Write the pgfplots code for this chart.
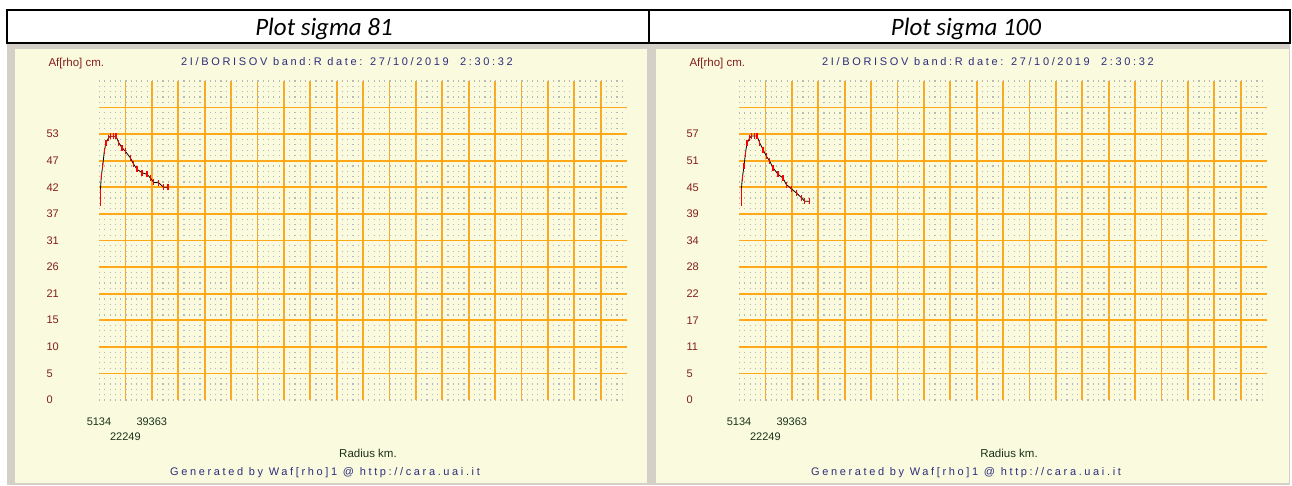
\documentclass[border=0pt]{standalone}
\usepackage{fontspec}
\setmainfont{Liberation Sans}
\newfontfamily\headfont{Carlito}
\newfontfamily\spacedfont[LetterSpace=24]{Liberation Sans}
\usepackage{pgfplots}
\pgfplotsset{compat=1.18}
\usepackage{pgfplotstable}

\definecolor{chartbg}{RGB}{250,250,222}
\definecolor{framegray}{RGB}{212,208,200}
\definecolor{gridorange}{RGB}{255,168,25}
\definecolor{dotgray}{RGB}{185,185,180}
\definecolor{ylab}{RGB}{130,30,30}
\definecolor{xlab}{RGB}{25,50,25}
\definecolor{titleblue}{RGB}{45,45,125}

% sigma 81: radius (km), Af[rho] (cm), error plus, error minus
\pgfplotstableread{
x     y    ep   em
5977  41.6 0.5  3.0
6625  44.6 0.6  0.6
7533  46.6 0.6  0.6
8570  49.6 0.6  0.6
9672  51.3 0.6  0.6
11423 52.3 0.6  0.6
12460 52.6 0.6  0.6
14664 52.6 0.6  0.6
16155 52.6 0.6  0.6
17905 51.3 0.6  0.6
20045 50.3 0.6  0.6
22184 49.6 0.6  0.6
25426 48.3 0.6  0.6
27630 47.0 0.6  0.6
29769 46.0 0.6  0.6
33011 45.3 0.6  0.6
36252 45.0 0.6  0.6
38392 44.3 0.6  0.6
40596 43.4 0.6  0.6
43837 43.3 0.6  0.6
47079 42.4 0.6  0.6
49866 42.4 0.6  0.6
}\sigmaA

% sigma 100
\pgfplotstableread{
x     y    ep   em
6625  45.0 0.5  3.4
7273  47.6 0.65 0.65
8376  50.1 0.65 0.65
9218  52.7 0.65 0.65
10320 55.1 0.65 0.65
12071 56.2 0.65 0.65
13108 56.6 0.65 0.65
15312 56.6 0.65 0.65
16803 56.6 0.65 0.65
18554 55.1 0.65 0.65
20693 53.7 0.65 0.65
22833 52.3 0.65 0.65
25037 51.2 0.65 0.65
27176 49.8 0.65 0.65
30418 48.4 0.65 0.65
33659 47.6 0.65 0.65
35799 46.2 0.65 0.65
39040 45.3 0.65 0.65
42282 44.4 0.65 0.65
45523 43.4 0.65 0.65
47727 42.6 0.65 0.65
50969 42.6 0.65 0.65
}\sigmaB

\pgfplotsset{
  cara/.style={
    scale only axis, width=528pt, height=319pt,
    anchor=south west,
    xmin=5134, xmax=347424, ymin=0,
    scaled x ticks=false, scaled y ticks=false,
    axis line style={draw=none},
    major tick length=0pt, minor tick length=0pt,
    xtick={22248.5,39363,56477.5,73592,90706.5,107821,124935.5,142050,159164.5,176279,
           193393.5,210508,227622.5,244737,261851.5,278966,296080.5,313195,330309.5},
    xticklabels={{\raisebox{-15pt}[8pt][0pt]{22249}},39363,{},{},{},{},{},{},{},{},{},{},{},{},{},{},{},{},{}},
    extra x ticks={5134}, extra x tick labels={5134},
    extra x tick style={grid=none},
    extra y ticks={0}, extra y tick labels={0},
    extra y tick style={grid=none},
    xmajorgrids=true, ymajorgrids=true, yminorgrids=true,
    major grid style={gridorange, line width=1.8pt},
    minor grid style={dotgray, line width=1.2pt, dash pattern=on 1.2pt off 4.08pt},
    tick label style={font=\fontsize{11}{13}\selectfont},
    xticklabel style={text=xlab, yshift=-14pt},
    yticklabel style={text=ylab, anchor=west, xshift=-56pt},
    error bars/y dir=both, error bars/y explicit,
    error bars/error bar style={red, line width=1.1pt},
    error bars/error mark=none,
  }
}

\begin{document}
\begin{tikzpicture}
\useasboundingbox (0,0) rectangle (1292pt,485pt);
\fill[white] (0,0) rectangle (1292pt,485pt);
% table body and chart panels
\fill[framegray] (7pt,0pt) rectangle (1290pt,442pt);
\fill[chartbg] (15pt,2pt) rectangle (647pt,436pt);
\fill[chartbg] (656pt,2pt) rectangle (1289pt,436pt);
% header row
\draw[black, line width=2pt] (7pt,442pt) rectangle (1290pt,475pt);
\draw[black, line width=2pt] (649pt,442pt) -- (649pt,475pt);
\node[anchor=base] at (324pt,449pt) {\headfont\itshape\fontsize{25}{30}\selectfont Plot sigma 81};
\node[anchor=base] at (966pt,449pt) {\headfont\itshape\fontsize{25}{30}\selectfont Plot sigma 100};

% left chart
\begin{axis}[cara, at={(99pt,85pt)}, ymax=63.6,
  ytick={5.3,10.6,15.9,21.2,26.5,31.8,37.1,42.4,47.7,53,58.3},
  yticklabels={5,10,15,21,26,31,37,42,47,53,{}},
  minor ytick={0,1.06,...,63.7}]
\addplot[black, line width=0.8pt] table[x=x, y=y, y error plus=ep, y error minus=em] {\sigmaA};
\end{axis}
\node[anchor=west, text=ylab, font=\fontsize{11.5}{13}\selectfont] at (45pt,421pt) {Af[rho] cm.};
\node[text=titleblue, font=\fontsize{11}{13}\selectfont] at (347pt,423pt) {\spacedfont 2I/BORISOV band:R date: 27/10/2019\ \ 2:30:32};
\node[text=xlab, font=\fontsize{11.5}{13}\selectfont] at (368pt,32pt) {Radius km.};
\node[text=titleblue, font=\fontsize{11}{13}\selectfont] at (325pt,12pt) {\spacedfont Generated by Waf[rho]1 @ http://cara.uai.it};

% right chart
\begin{axis}[cara, at={(739pt,85pt)}, ymax=68.4,
  ytick={5.7,11.4,17.1,22.8,28.5,34.2,39.9,45.6,51.3,57,62.7},
  yticklabels={5,11,17,22,28,34,39,45,51,57,{}},
  minor ytick={0,1.14,...,68.5}]
\addplot[black, line width=0.8pt] table[x=x, y=y, y error plus=ep, y error minus=em] {\sigmaB};
\end{axis}
\node[anchor=west, text=ylab, font=\fontsize{11.5}{13}\selectfont] at (686pt,421pt) {Af[rho] cm.};
\node[text=titleblue, font=\fontsize{11}{13}\selectfont] at (988pt,423pt) {\spacedfont 2I/BORISOV band:R date: 27/10/2019\ \ 2:30:32};
\node[text=xlab, font=\fontsize{11.5}{13}\selectfont] at (1009pt,32pt) {Radius km.};
\node[text=titleblue, font=\fontsize{11}{13}\selectfont] at (966pt,12pt) {\spacedfont Generated by Waf[rho]1 @ http://cara.uai.it};
\end{tikzpicture}
\end{document}
